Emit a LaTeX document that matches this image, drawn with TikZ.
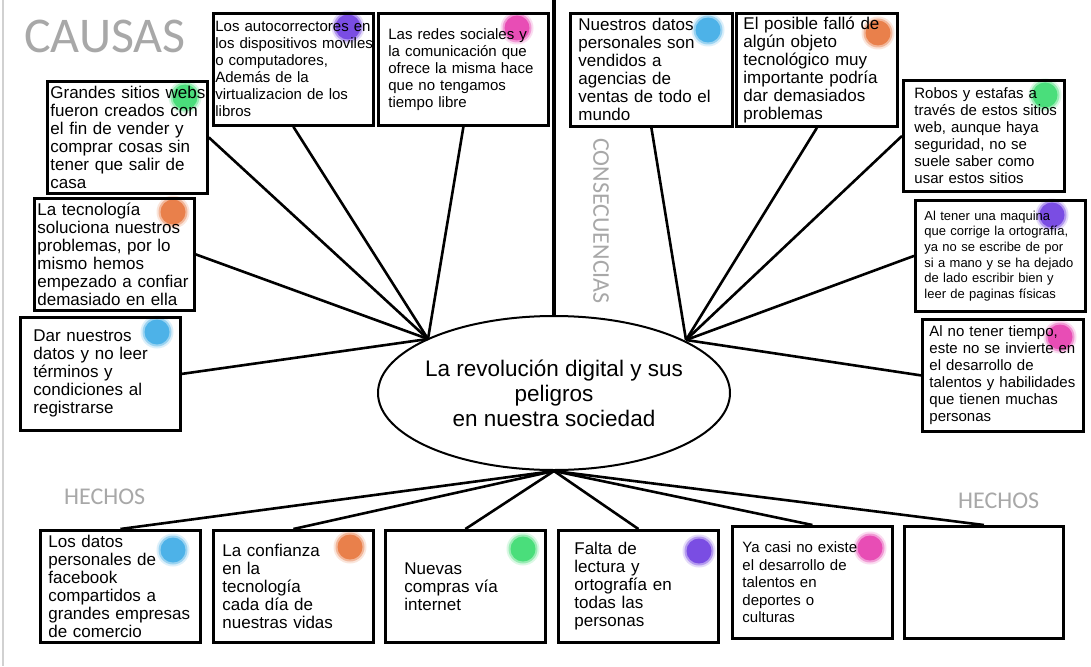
\documentclass[tikz,border=0pt]{standalone}
\usepackage{fontspec}
\setmainfont{Liberation Sans}
\newfontfamily\headfont{Carlito}
\usetikzlibrary{shapes.geometric,backgrounds}
\definecolor{headgray}{HTML}{A8A8A8}
\definecolor{dotgreen}{HTML}{4ADE7B}
\definecolor{dotpurple}{HTML}{7A4DE3}
\definecolor{dotpink}{HTML}{E84DB5}
\definecolor{dotblue}{HTML}{4DB2E8}
\definecolor{dotorange}{HTML}{E9804B}

\begin{document}
\begin{tikzpicture}[x=1pt, y=-1pt,
  box/.style={draw, rectangle, line width=2.8pt, anchor=north west, inner sep=0pt,
    text width=#1, minimum width=#1, minimum height=112, align=left,
    font=\fontsize{17}{18}\selectfont},
  box/.default=160,
  lpad/.style={execute at begin node={\leftskip=#1pt\rightskip=-30pt plus 1fil\relax}},
  smalltext/.style={font=\fontsize{15}{17}\selectfont},
  tinytext/.style={font=\fontsize{13}{15.7}\selectfont},
  link/.style={line width=2.6pt},
  head/.style={text=headgray, inner sep=0pt}]
  \useasboundingbox (0,0) rectangle (1091,666);
  \draw[black!18, line width=1.5pt] (3,0) -- (3,666);

  \node[head, anchor=base west, font=\headfont\fontsize{50}{50}\selectfont] (causas) at (24,53) {CAUSAS};
  \node[head, anchor=base west, font=\headfont\fontsize{24}{24}\selectfont] (hechosl) at (64,504) {HECHOS};
  \node[head, anchor=base west, font=\headfont\fontsize{24}{24}\selectfont] (hechosr) at (958,508) {HECHOS};
  \node[head, rotate=-90, font=\headfont\fontsize{24}{24}\selectfont] (consec) at (601,221) {CONSECUENCIAS};

  \node[draw, ellipse, line width=2pt, minimum width=352, minimum height=154, inner xsep=-30pt, inner ysep=0pt,
    align=center, font=\fontsize{22.5}{25}\selectfont] (title) at (554,393) {La revolución digital y sus\\peligros\\en nuestra sociedad};

  \node[box, lpad=2, smalltext] (autoc) at (212,12) {Los autocorrectores en\\los dispositivos moviles\\o computadores,\\Además de la\\virtualizacion de los\\libros};
  \node[box=170, lpad=10, smalltext] (redes) at (377,12) {Las redes sociales y\\la comunicación que\\ofrece la misma hace\\que no tengamos\\tiempo libre};
  \node[box, lpad=3] (grandes) at (46,80) {Grandes sitios webs\\fueron creados con\\el fin de vender y\\comprar cosas sin\\tener que salir de\\casa};
  \node[box, lpad=3] (confiar) at (33,197) {La tecnología\\soluciona nuestros\\problemas, por lo\\mismo hemos\\empezado a confiar\\demasiado en ella};
  \node[box, lpad=13, minimum height=113] (datos) at (19,316) {Dar nuestros\\datos y no leer\\términos y\\condiciones al\\registrarse};

  \node[box=162, lpad=8, minimum height=113] (vendidos) at (569,12) {Nuestros datos\\personales son\\vendidos a\\agencias de\\ventas de todo el\\mundo};
  \node[box=161, lpad=7, minimum height=113] (fallo) at (735,12) {El posible falló de\\algún objeto\\tecnológico muy\\importante podría\\dar demasiados\\problemas};
  \node[box=161, lpad=11, minimum height=111, smalltext] (robos) at (902,79) {Robos y estafas a\\través de estos sitios\\web, aunque haya\\seguridad, no se\\suele saber como\\usar estos sitios};
  \node[box=170, lpad=9, minimum height=111, tinytext] (maquina) at (914,199) {Al tener una maquina\\que corrige la ortografía,\\ya no se escribe de por\\si a mano y se ha dejado\\de lado escribir bien y\\leer de paginas físicas};
  \node[box=161, lpad=7, smalltext] (tiempo) at (921,318) {Al no tener tiempo,\\este no se invierte en\\el desarrollo de\\talentos y habilidades\\que tienen muchas\\personas};

  \node[box, lpad=8] (facebook) at (39,529) {Los datos\\personales de\\facebook\\compartidos a\\grandes empresas\\de comercio};
  \node[box, lpad=9] (diaria) at (212,529) {La confianza\\en la\\tecnología\\cada día de\\nuestras vidas};
  \node[box, lpad=19] (compras) at (384,529) {Nuevas\\compras vía\\internet};
  \node[box, lpad=16] (lectura) at (557,529) {Falta de\\lectura y\\ortografía en\\todas las\\personas};
  \node[box, lpad=10, font=\fontsize{15}{17.5}\selectfont] (talentos) at (731,525) {Ya casi no existe\\el desarrollo de\\talentos en\\deportes o\\culturas};
  \node[box=159] (vacio) at (903,525) {};

  \coordinate (top) at (554,0);
  \coordinate (lhub) at (428,339);
  \coordinate (rhub) at (686,340);

  \draw[line width=4pt] (top) -- (title.north);
  \draw[link] (autoc.south) -- (lhub);
  \draw[link] (redes.south) -- (lhub);
  \draw[link] (grandes.east) -- (lhub);
  \draw[link] (confiar.east) -- (lhub);
  \draw[link] (datos.east) -- (lhub);
  \draw[link] (vendidos.south) -- (rhub);
  \draw[link] (fallo.south) -- (rhub);
  \draw[link] (robos.west) -- (rhub);
  \draw[link] (maquina.west) -- (rhub);
  \draw[link] (tiempo.west) -- (rhub);
  \draw[link] (title.south) -- (facebook.north);
  \draw[link] (title.south) -- (diaria.north);
  \draw[link] (title.south) -- (compras.north);
  \draw[link] (title.south) -- (lectura.north);
  \draw[link] (title.south) -- (talentos.north);
  \draw[link] (title.south) -- (vacio.north);

  \begin{pgfonlayer}{background}
    \fill[white] (0,0) rectangle (1091,666);
    \foreach \px/\py/\col in {348/27/dotpurple, 517/28/dotpink, 185/97/dotgreen, 173/212/dotorange,
        157/332/dotblue, 708/30/dotblue, 878/33/dotorange, 1045/95/dotgreen, 1052/215/dotpurple,
        1060/337/dotpink, 173/550/dotblue, 350/547/dotorange, 523/549/dotgreen, 699/551/dotpurple,
        870/548/dotpink} {
      \fill[\col, opacity=0.2] (\px,\py) circle (16.5);
      \fill[\col, opacity=0.45] (\px,\py) circle (14.5);
      \fill[\col] (\px,\py) circle (12.5);
    }
  \end{pgfonlayer}
\end{tikzpicture}
\end{document}
